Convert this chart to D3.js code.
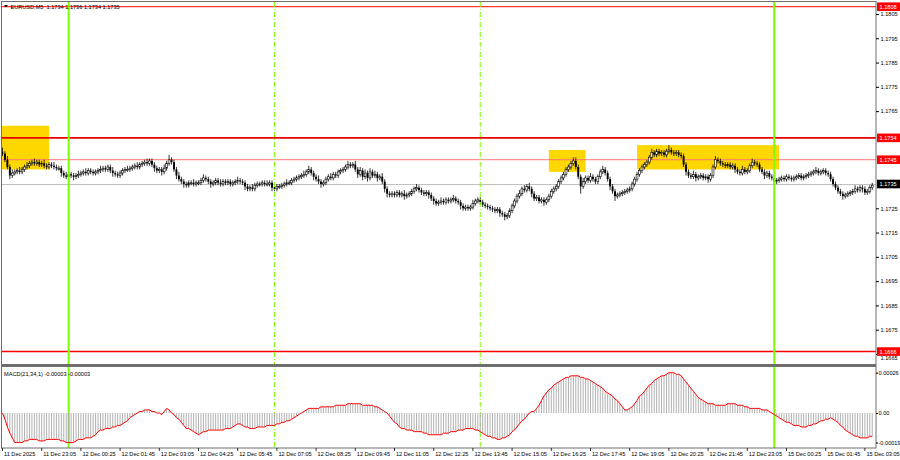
<!DOCTYPE html>
<html>
<head>
<meta charset="utf-8">
<script src="https://cdn.jsdelivr.net/npm/d3@7"></script>
<style>
html, body { margin: 0; padding: 0; background: #fff; }
svg { display: block; }
text { font-family: "Liberation Sans", Arial, sans-serif; font-size: 5.6px; white-space: pre; }
</style>
</head>
<body>
<div id="chart"></div>
<script>
// EURUSD M5, candle prices written in pips above 1.1700
const symbolTitle = "EURUSD,M5";
const lastQuote = ["1.1734", "1.1736", "1.1734", "1.1735"];
const macdTitle = "MACD(21,34,1) -0.00003 -0.00003";
const startTime = "2025-12-11T21:45:00Z";
const basePrice = 1.17;
const firstOpen = 48;

const closes = [
  47.5, 45, 42, 38.5, 39.5, 40, 40.5, 40, 41, 42, 42.5, 43.5, 44, 43.5, 44, 43,
  43.5, 42.5, 42, 43, 42.5, 42, 41.5, 41.5, 39.5, 38.5, 38, 39, 38.5, 38, 38.5, 39,
  39.5, 40, 39.5, 40.5, 40, 39.5, 40, 40.5, 41, 41.5, 41, 42, 40.5, 39.5, 39, 38.5,
  39.5, 40.5, 41, 41, 41.5, 42, 42.5, 42, 43, 43.5, 44, 43.5, 44.5, 43, 41.5, 40.5,
  41, 40, 41.5, 43.5, 45, 44, 41, 38.5, 37, 36, 35, 34.5, 35.5, 35.5, 35, 35.5,
  35.5, 36.5, 37.5, 37, 36, 35, 35.5, 36.5, 35.5, 35, 36, 35.5, 36, 35, 35.5, 36,
  36.5, 36, 35.5, 34, 33, 33.5, 33, 34.5, 35, 35, 35.5, 35, 35, 35.5, 33.5, 33,
  34, 34, 34.5, 35, 35.5, 35.5, 36.5, 37, 37.5, 38, 38.5, 39, 40, 41, 39.5, 38,
  37, 36, 35, 35.5, 37, 38, 37.5, 39, 38.5, 40, 40.5, 41, 42, 43, 42.5, 43,
  41, 39, 40.5, 38, 39.5, 37.5, 40, 38.5, 39, 37.5, 38, 36, 33, 31, 30.5, 31,
  30.5, 31.5, 30.5, 31, 30, 30.5, 31, 32, 33, 33.5, 32.5, 31.5, 31, 31.5, 30.5, 29,
  28, 27, 27.5, 28, 27.5, 28.5, 28, 28.5, 29, 28, 27.5, 26, 25, 25.5, 25, 25.5,
  27, 28, 28.5, 27.5, 26.5, 26, 25.5, 25, 24.5, 24, 24.5, 23, 22.5, 21.5, 22, 24,
  26, 28, 30, 31, 33, 32.5, 34, 33, 31, 29, 29.5, 28, 28.5, 27.5, 28.5, 30,
  32, 33, 34, 36, 37.5, 39, 41, 42, 43.5, 44.5, 42, 38, 34, 36, 37.5, 36.5,
  38, 37, 36, 38, 40, 41, 39.5, 37, 34, 32, 30, 30.5, 31, 31.5, 32, 32.5,
  33, 35, 37, 39, 40.5, 42, 43, 44, 46, 48, 47, 48.5, 47.5, 48, 47, 48.5,
  49, 48, 47.5, 48, 47, 46.5, 43, 40, 38.5, 38, 39, 37.5, 38, 38.5, 37.5, 38,
  37, 38.5, 42, 45, 44.5, 43.5, 43, 42.5, 43, 42, 42.5, 41, 40, 39.5, 41, 40,
  40.5, 42.5, 44, 43.5, 43, 41, 40, 38.5, 39.5, 38, 37.5, 36, 36.5, 37, 37.5, 37,
  38, 37.5, 37, 37.5, 38, 38.5, 37.5, 38, 38.5, 39, 39.5, 40, 40.5, 39.5, 40, 40.5,
  39.5, 39, 37, 35, 33.5, 32, 31, 30, 30.5, 31, 31.5, 32, 33, 32.5, 33.5, 33,
  31.5, 32, 33.5, 34.5
];

// wick length above / below the body, pips
const wickUp = [
  2, 1, 1.5, 1, 1.5, 1, 1, 1.5, 1, 1, 1.5, 1, 1, 1.5, 1, 1,
  1, 1.5, 1, 1, 1, 1.5, 1, 1, 1, 1, 1.5, 1, 1, 1, 1, 1.5,
  1, 1, 1.5, 1, 1, 1, 1, 1, 1.5, 1, 1, 1, 1, 1.5, 1, 1,
  1, 1, 1, 1.5, 1, 1, 1, 1.5, 1, 1, 1, 1.5, 1, 1, 1, 1,
  1, 1, 1.5, 1, 2, 1, 1, 1, 1.5, 1, 1, 1, 1, 1, 1.5, 1,
  1, 1, 1.5, 1, 1, 1, 1, 1, 1, 1.5, 1, 1, 1, 1, 1, 1,
  1.5, 1, 1, 1, 1, 1, 1.5, 1, 1, 1, 1, 1, 1.5, 1, 1, 1,
  1, 1, 1, 1, 1.5, 1, 1, 1, 1, 1, 1, 1.5, 1, 1.5, 1, 1,
  1, 1.5, 1, 1, 1, 1, 1.5, 1, 1, 1, 1, 1, 1, 1.5, 1, 1,
  1.5, 1, 1.5, 1, 1.5, 1, 1.5, 1, 1.5, 1, 1, 1.5, 1, 1, 1, 1,
  1, 1, 1, 1, 1.5, 1, 1, 1, 1, 1.5, 1, 1, 1, 1, 1, 1,
  1, 1, 1, 1.5, 1, 1, 1, 1, 1.5, 1, 1, 1, 1, 1, 1, 1,
  1.5, 1, 1, 1, 1, 1, 1, 1, 1, 1, 1, 1, 1, 1, 1, 1,
  1, 1, 1, 1.5, 1, 1.5, 1, 1.5, 1, 1, 1, 1, 1, 1, 1, 1,
  1, 1, 1, 1, 1, 1, 1, 1, 1, 1.5, 1.5, 1, 1, 1.5, 1, 1,
  1.5, 1, 1, 1, 1, 1.5, 1, 1, 1, 1, 1, 1, 1, 1, 1, 1,
  1, 1, 1, 1, 1, 1, 1, 1, 1, 1.5, 1, 1, 1, 1, 1, 1,
  2, 1, 1, 1, 1, 1, 1, 1, 1, 1, 1.5, 1, 1, 1, 1, 1,
  1, 1, 1, 1.5, 1, 1, 1, 1, 1, 1, 1, 1, 1, 1, 1.5, 1,
  1, 1, 1.5, 1, 1, 1, 1, 1, 1, 1, 1, 1, 1, 1, 1, 1,
  1, 1, 1, 1, 1, 1, 1, 1, 1, 1, 1, 1, 1.5, 1, 1, 1,
  1, 1, 1, 1, 1, 1, 1, 1, 1, 1, 1, 1, 1.5, 1, 1, 1,
  1, 1, 1, 1
];
const wickDn = [
  1, 1, 1, 1.5, 1, 1, 1, 1, 1, 1, 1, 1, 1, 1, 1, 1,
  1, 1, 1, 1, 1, 1, 1, 1, 1.5, 1, 1, 1, 1, 1.5, 1, 1,
  1, 1, 1, 1, 1, 1, 1, 1, 1, 1, 1, 1, 1, 1.5, 1, 1,
  1, 1, 1, 1, 1, 1, 1, 1, 1, 1, 1, 1, 1, 1, 1.5, 1,
  1, 1.5, 1, 1, 1, 1, 1, 1.5, 1, 1, 1.5, 1, 1, 1, 1, 1,
  1, 1, 1, 1, 1, 1.5, 1, 1, 1, 1, 1, 1, 1, 1, 1, 1,
  1, 1, 1, 1.5, 1, 1, 1, 1, 1, 1, 1, 1, 1, 1, 1.5, 1,
  1, 1, 1, 1, 1, 1, 1, 1, 1, 1, 1, 1, 1, 1, 1, 1.5,
  1, 1, 1.5, 1, 1, 1, 1, 1, 1, 1, 1, 1, 1, 1, 1, 1,
  1, 1.5, 1, 1.5, 1, 1.5, 1, 1, 1, 1.5, 1, 1, 1.5, 1.5, 1, 1,
  1, 1, 1, 1, 1.5, 1, 1, 1, 1, 1, 1, 1, 1, 1, 1.5, 1,
  1.5, 1, 1, 1, 1, 1, 1, 1, 1, 1, 1, 1.5, 1, 1, 1, 1,
  1, 1, 1, 1, 1, 1, 1, 1, 1, 1, 1, 1.5, 1, 1.5, 1, 1,
  1, 1, 1, 1, 1, 1, 1, 1, 1.5, 1, 1, 1, 1, 1.5, 1, 1,
  1, 1, 1, 1, 1, 1, 1, 1, 1, 1, 1, 1, 3, 1, 1, 1,
  1, 1, 1, 1, 1, 1, 1, 1, 1.5, 1, 2, 1, 1, 1, 1, 1,
  1, 1, 1, 1, 1, 1, 1, 1, 1, 1, 1, 1, 1, 1, 1, 1,
  1, 1, 1, 1, 1, 1, 1, 1.5, 1, 1, 1, 1.5, 1, 1, 1, 1,
  1.5, 1, 1, 1, 1, 1, 1, 1, 1, 1, 1, 1.5, 1, 1, 1, 1,
  1, 1, 1, 1, 1, 1, 1, 1.5, 1, 1, 1, 1.5, 1, 1, 1, 1,
  1, 1, 1, 1, 1, 1, 1, 1, 1, 1, 1, 1, 1, 1, 1, 1,
  1, 1, 1, 1, 1, 1, 1, 1.5, 1, 1, 1, 1, 1, 1, 1, 1.5,
  1, 1, 1, 1
];

// MACD main line per bar, in 0.00001 units
const macd = [
  0, -4, -9, -13, -16, -19, -19, -19, -19, -18, -18, -17, -17, -17, -17, -18,
  -18, -18, -17, -17, -17, -17, -17, -17, -18, -18, -19, -19, -19, -19, -18, -17,
  -17, -17, -16, -16, -16, -15, -14, -12, -11, -11, -10, -10, -10, -9, -9, -8,
  -8, -7, -6, -5, -3, -2, -1, 0, 1, 1, 2, 2, 2, 1, 1, 0,
  0, -1, 1, 3, 2, 0, -1, -3, -4, -6, -8, -10, -10, -11, -12, -13,
  -14, -13, -12, -12, -11, -11, -11, -11, -11, -11, -11, -10, -10, -10, -9, -8,
  -7, -7, -8, -9, -9, -10, -10, -10, -9, -9, -9, -9, -8, -8, -8, -8,
  -7, -7, -6, -6, -5, -5, -4, -3, -2, -1, 0, 1, 2, 3, 3, 3,
  3, 3, 4, 4, 4, 4, 4, 4, 5, 5, 5, 5, 5, 6, 6, 6,
  6, 6, 6, 5, 5, 5, 5, 5, 4, 4, 3, 2, 1, 0, -2, -4,
  -6, -7, -9, -10, -10, -11, -11, -11, -12, -12, -12, -12, -13, -13, -14, -14,
  -14, -14, -14, -14, -13, -13, -13, -12, -12, -12, -11, -11, -11, -10, -10, -10,
  -10, -11, -11, -12, -13, -14, -15, -15, -16, -16, -17, -17, -16, -16, -15, -14,
  -12, -11, -9, -7, -5, -4, -2, 0, 1, 1, 3, 5, 8, 11, 13, 15,
  16, 18, 19, 20, 21, 22, 23, 23, 24, 24, 24, 24, 23, 23, 22, 22,
  21, 20, 19, 18, 17, 16, 14, 13, 12, 11, 9, 8, 6, 4, 2, 2,
  3, 4, 6, 8, 11, 12, 14, 16, 18, 19, 21, 22, 23, 24, 24, 25,
  26, 26, 26, 25, 25, 24, 22, 20, 18, 16, 14, 12, 10, 9, 8, 7,
  6, 6, 6, 5, 5, 5, 5, 5, 6, 6, 6, 6, 5, 5, 5, 4,
  4, 3, 3, 3, 3, 3, 2, 2, 2, 1, 0, -1, -2, -3, -4, -5,
  -6, -6, -7, -8, -8, -8, -9, -9, -9, -8, -8, -7, -7, -6, -5, -5,
  -4, -4, -3, -4, -5, -6, -8, -9, -11, -12, -13, -14, -15, -15, -16, -16,
  -16, -16, -15, -15
];

const timeLabels = [
  "11 Dec 2025", "11 Dec 23:05", "12 Dec 00:25", "12 Dec 01:45", "12 Dec 03:05", "12 Dec 04:25",
  "12 Dec 05:45", "12 Dec 07:05", "12 Dec 08:25", "12 Dec 09:45", "12 Dec 11:05", "12 Dec 12:25",
  "12 Dec 13:45", "12 Dec 15:05", "12 Dec 16:25", "12 Dec 17:45", "12 Dec 19:05", "12 Dec 20:25",
  "12 Dec 21:45", "12 Dec 23:05", "15 Dec 00:25", "15 Dec 01:45", "15 Dec 03:05"
];
const priceTicks = [1.1805, 1.1795, 1.1785, 1.1775, 1.1765, 1.1725,
  1.1715, 1.1705, 1.1695, 1.1685, 1.1675, 1.1665];
const macdTicks = [0.00026, 0, -0.00019];

const levelPrices = [1.1808, 1.1754, 1.1745, 1.1666];
const bidPrice = 1.1735;
const zoneStarts = ["11 Dec 21:00", "12 Dec 16:20", "12 Dec 19:20"];
const zoneEnds = ["11 Dec 23:20", "12 Dec 17:35", "15 Dec 00:10"];
const zoneTops = [1.1759, 1.1749, 1.1751];
const zoneBottoms = [1.1741, 1.1740, 1.1741];
const dayLines = ["12 Dec 00:00", "15 Dec 00:00"];
const sessionLines = ["12 Dec 07:00", "12 Dec 14:00"];

// ---------------------------------------------------------------
const W = 900, H = 460;
const pane = { left: 2, right: 876, top: 2, bottom: 364 };
const sub = { top: 367, bottom: 448 };
const levelColors = ["#ff0000", "#e60000", "#ff7878", "#ff0000"];
const levelWidths = [1, 1.6, 1, 1.6];

const fmt = d3.utcFormat("%d %b %H:%M");
const barTimes = [];
let t = new Date(startTime);
while (barTimes.length < closes.length) {
  const wd = t.getUTCDay();
  if (wd !== 0 && wd !== 6) barTimes.push(new Date(t));
  t = new Date(+t + 300000);
}
const parseT = d3.utcParse("%d %b %H:%M %Y");
function idxOf(s) {
  const i = barTimes.findIndex(d => fmt(d) === s);
  if (i >= 0) return i;
  return (parseT(s + " 2025") - barTimes[0]) / 300000;
}

const bars = closes.map((c, i) => {
  const o = i === 0 ? firstOpen : closes[i - 1];
  return {
    i,
    open: basePrice + o / 10000,
    close: basePrice + c / 10000,
    high: basePrice + (Math.max(o, c) + wickUp[i]) / 10000,
    low: basePrice + (Math.min(o, c) - wickDn[i]) / 10000
  };
});

const x = d3.scaleLinear().domain([0, 356]).range([2.5, 874.7]);
const y = d3.scaleLinear().domain([1.1665, 1.1805]).range([354, 14]);
const ym = d3.scaleLinear().domain([-0.00019, 0.00026]).range([442.5, 372.7]);

const svg = d3.select("#chart").append("svg").attr("width", W).attr("height", H);
svg.append("rect").attr("width", W).attr("height", H).attr("fill", "#fff");

const defs = svg.append("defs");
defs.append("clipPath").attr("id", "clipMain").append("rect")
  .attr("x", pane.left).attr("y", pane.top)
  .attr("width", pane.right - pane.left).attr("height", pane.bottom - pane.top);
defs.append("clipPath").attr("id", "clipSub").append("rect")
  .attr("x", pane.left).attr("y", sub.top)
  .attr("width", pane.right - pane.left).attr("height", sub.bottom - sub.top);
defs.append("clipPath").attr("id", "clipAll").append("rect")
  .attr("x", pane.left).attr("y", pane.top)
  .attr("width", pane.right - pane.left).attr("height", sub.bottom - pane.top);

const main = svg.append("g").attr("clip-path", "url(#clipMain)");

// yellow zones
main.selectAll("rect.zone").data(zoneStarts).join("rect")
  .attr("class", "zone")
  .attr("x", (d, k) => x(idxOf(d)))
  .attr("width", (d, k) => x(idxOf(zoneEnds[k])) - x(idxOf(d)))
  .attr("y", (d, k) => y(zoneTops[k]))
  .attr("height", (d, k) => y(zoneBottoms[k]) - y(zoneTops[k]))
  .attr("fill", "#ffd700");

// bid line
main.append("line")
  .attr("x1", pane.left).attr("x2", pane.right)
  .attr("y1", Math.round(y(bidPrice)) + 0.5).attr("y2", Math.round(y(bidPrice)) + 0.5)
  .attr("stroke", "#c0c0c0").attr("stroke-width", 1);

// horizontal levels
main.selectAll("line.level").data(levelPrices).join("line")
  .attr("class", "level")
  .attr("x1", pane.left).attr("x2", pane.right)
  .attr("y1", d => y(d)).attr("y2", d => y(d))
  .attr("stroke", (d, k) => levelColors[k])
  .attr("stroke-width", (d, k) => levelWidths[k]);

// vertical separators through both panes
const vlines = svg.append("g").attr("clip-path", "url(#clipAll)");
vlines.selectAll("line.day").data(dayLines).join("line")
  .attr("x1", d => x(idxOf(d))).attr("x2", d => x(idxOf(d)))
  .attr("y1", pane.top).attr("y2", sub.bottom)
  .attr("stroke", "#7cfc00").attr("stroke-width", 2);
vlines.selectAll("line.sess").data(sessionLines).join("line")
  .attr("x1", d => x(idxOf(d))).attr("x2", d => x(idxOf(d)))
  .attr("y1", pane.top).attr("y2", sub.bottom)
  .attr("stroke", "#7cfc00").attr("stroke-width", 1)
  .attr("stroke-dasharray", "5,2,1,2");

// candles
const cw = 1.9;
main.selectAll("line.wick").data(bars).join("line")
  .attr("x1", d => x(d.i)).attr("x2", d => x(d.i))
  .attr("y1", d => y(d.high)).attr("y2", d => y(d.low))
  .attr("stroke", "#000").attr("stroke-width", 0.8);
main.selectAll("rect.body").data(bars).join("rect")
  .attr("x", d => x(d.i) - cw / 2)
  .attr("width", cw)
  .attr("y", d => y(Math.max(d.open, d.close)))
  .attr("height", d => Math.max(1, Math.abs(y(d.open) - y(d.close))))
  .attr("fill", d => d.close < d.open ? "#000" : "#fff")
  .attr("stroke", "#000").attr("stroke-width", d => d.close < d.open ? 0 : 0.6);

// MACD pane
const subG = svg.append("g").attr("clip-path", "url(#clipSub)");
subG.selectAll("line.hist").data(macd).join("line")
  .attr("x1", (d, i) => x(i)).attr("x2", (d, i) => x(i))
  .attr("y1", ym(0)).attr("y2", d => ym(d / 100000))
  .attr("stroke", "#a8a8a8").attr("stroke-width", 0.9);
subG.append("path")
  .datum(macd)
  .attr("fill", "none").attr("stroke", "#ff0000").attr("stroke-width", 1)
  .attr("d", d3.line().x((d, i) => x(i)).y(d => ym(d / 100000)));

// frames
svg.append("rect").attr("x", pane.left - 0.5).attr("y", pane.top - 0.5)
  .attr("width", pane.right - pane.left + 0.5).attr("height", sub.bottom - pane.top + 0.5)
  .attr("fill", "none").attr("stroke", "#6e6e6e").attr("stroke-width", 1);
svg.append("rect").attr("x", pane.left).attr("y", pane.bottom)
  .attr("width", pane.right - pane.left).attr("height", sub.top - pane.bottom)
  .attr("fill", "#6e6e6e");

// price axis
const yAxis = svg.append("g").attr("transform", `translate(${pane.right},0)`)
  .call(d3.axisRight(y).tickValues(priceTicks).tickSize(3).tickPadding(1.5)
    .tickFormat(d3.format(".4f")));
yAxis.select(".domain").remove();
yAxis.selectAll("text").attr("font-size", "5.6px").attr("font-family", null).attr("fill", "#000");
yAxis.selectAll("line").attr("stroke", "#000");
// the lowest tick label sits just under its level box
yAxis.selectAll(".tick").filter(d => d === 1.1665).select("text").attr("dy", "0.95em");

const mAxis = svg.append("g").attr("transform", `translate(${pane.right},0)`)
  .call(d3.axisRight(ym).tickValues(macdTicks).tickSize(2).tickPadding(0.5)
    .tickFormat(d => d === 0 ? "0.00" : d3.format(".5f")(d).replace("−", "-")));
mAxis.select(".domain").remove();
mAxis.selectAll("text").attr("font-size", "5.2px").attr("font-family", null).attr("fill", "#000");
mAxis.selectAll("line").attr("stroke", "#000");

// level price boxes
const boxG = svg.append("g");
levelPrices.forEach(p => {
  const g = boxG.append("g").attr("transform", `translate(${pane.right + 1},${y(p)})`);
  g.append("rect").attr("x", 0).attr("y", -4.3).attr("width", 23).attr("height", 8.6)
    .attr("fill", "#ff0000");
  g.append("text").attr("x", 2.5).attr("dy", "0.35em").attr("fill", "#fff")
    .text(d3.format(".4f")(p));
});
{
  const g = boxG.append("g").attr("transform", `translate(${pane.right + 1},${y(bidPrice)})`);
  g.append("rect").attr("x", 0).attr("y", -4.3).attr("width", 23).attr("height", 8.6)
    .attr("fill", "#000");
  g.append("text").attr("x", 2.5).attr("dy", "0.35em").attr("fill", "#fff")
    .text(d3.format(".4f")(bidPrice));
}

// time axis
const tickIdx = timeLabels.map((d, k) => k * 16);
const tAxis = svg.append("g").attr("transform", `translate(0,${sub.bottom})`);
tAxis.selectAll("line").data(tickIdx).join("line")
  .attr("x1", d => x(d)).attr("x2", d => x(d))
  .attr("y1", 0).attr("y2", 3).attr("stroke", "#000").attr("stroke-width", 0.8);
tAxis.selectAll("text").data(tickIdx).join("text")
  .attr("x", d => x(d) + 1.5).attr("y", 7.5)
  .attr("fill", "#000")
  .text((d, k) => timeLabels[k]);

// titles
svg.append("path").attr("d", "M4,5 L8,5 L6,7.5 Z").attr("fill", "#000");
svg.append("text").attr("x", 10.5).attr("y", 8.8).attr("fill", "#000")
  .text(symbolTitle + "  " + lastQuote.join(" "));
svg.append("text").attr("x", 4).attr("y", 375.5).attr("fill", "#000")
  .text(macdTitle);
</script>
</body>
</html>
